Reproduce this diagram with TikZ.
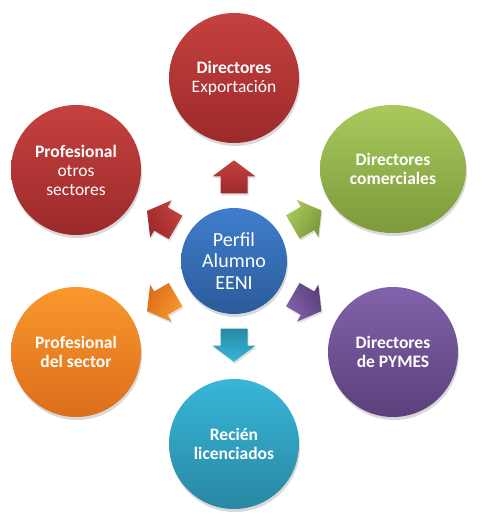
\documentclass[tikz,border=0pt]{standalone}
\usepackage{fontspec}
\setmainfont{Carlito}
\usetikzlibrary{shapes.geometric,shadows,calc}
\definecolor{redT}{HTML}{C5413F}
\definecolor{redB}{HTML}{9C2A2A}
\definecolor{grnT}{HTML}{A9C95C}
\definecolor{grnB}{HTML}{7D993C}
\definecolor{purT}{HTML}{8262AA}
\definecolor{purB}{HTML}{5B407C}
\definecolor{cyaT}{HTML}{38B6D9}
\definecolor{cyaB}{HTML}{2888A2}
\definecolor{orgT}{HTML}{F9982C}
\definecolor{orgB}{HTML}{DC6E1C}
\definecolor{bluT}{HTML}{3F7ECD}
\definecolor{bluB}{HTML}{2B5B9A}
\tikzset{
  bubble/.style={circle, inner sep=0pt, minimum size=130pt, text=white, align=center,
    font=\bfseries\fontsize{17.5}{19}\selectfont,
    drop shadow={opacity=0.3, shadow xshift=1pt, shadow yshift=-3pt}},
  hub/.style={circle, inner sep=0pt, minimum size=106pt, text=white, align=center,
    top color=bluT, bottom color=bluB,
    font=\fontsize{20}{21.5}\selectfont,
    drop shadow={opacity=0.3, shadow xshift=1pt, shadow yshift=-3pt}},
  arrowshadow/.style={drop shadow={opacity=0.25, shadow xshift=1pt, shadow yshift=-2pt}},
  redfill/.style={top color=redT, bottom color=redB},
  grnfill/.style={top color=grnT, bottom color=grnB},
  purfill/.style={top color=purT, bottom color=purB},
  cyafill/.style={top color=cyaT, bottom color=cyaB},
  orgfill/.style={top color=orgT, bottom color=orgB}
}
% block arrow between hub #1 and outer node #2, rotated #3, fill style #4
\newcommand{\blockarrowbetween}[4]{%
  \begin{scope}[shift={($(#1)!0.46!(#2)$)}, rotate=#3]
    \path[#4, shading angle=-#3+90, arrowshadow]
      (-16.5,-13.5) -- (0.5,-13.5) -- (0.5,-21.5) -- (16.5,0) --
      (0.5,21.5) -- (0.5,13.5) -- (-16.5,13.5) -- cycle;
  \end{scope}}
\begin{document}
\begin{tikzpicture}[x=1pt,y=1pt]
\useasboundingbox (0,0) rectangle (483,-523);
% outer nodes
\node[bubble, redfill] (top) at (234,-78) {Directores\\\mdseries Exportación};
\node[bubble, grnfill, ellipse, minimum width=146pt, minimum height=128pt] (ur) at (393,-169) {Directores\\comerciales};
\node[bubble, purfill] (lr) at (393,-352) {Directores\\de PYMES};
\node[bubble, cyafill] (bot) at (234,-444) {Recién\\licenciados};
\node[bubble, orgfill] (ll) at (76,-352) {Profesional\\del sector};
\node[bubble, redfill] (ul) at (76,-170) {Profesional\\\mdseries otros\\\mdseries sectores};
% hub
\node[hub] (c) at (234,-261) {Perfil\\Alumno\\EENI};
% block arrows
\blockarrowbetween{c}{top}{90}{redfill}
\blockarrowbetween{c}{ur}{30}{grnfill}
\blockarrowbetween{c}{lr}{-30}{purfill}
\blockarrowbetween{c}{bot}{-90}{cyafill}
\blockarrowbetween{c}{ll}{-150}{orgfill}
\blockarrowbetween{c}{ul}{150}{redfill}
\end{tikzpicture}
\end{document}
